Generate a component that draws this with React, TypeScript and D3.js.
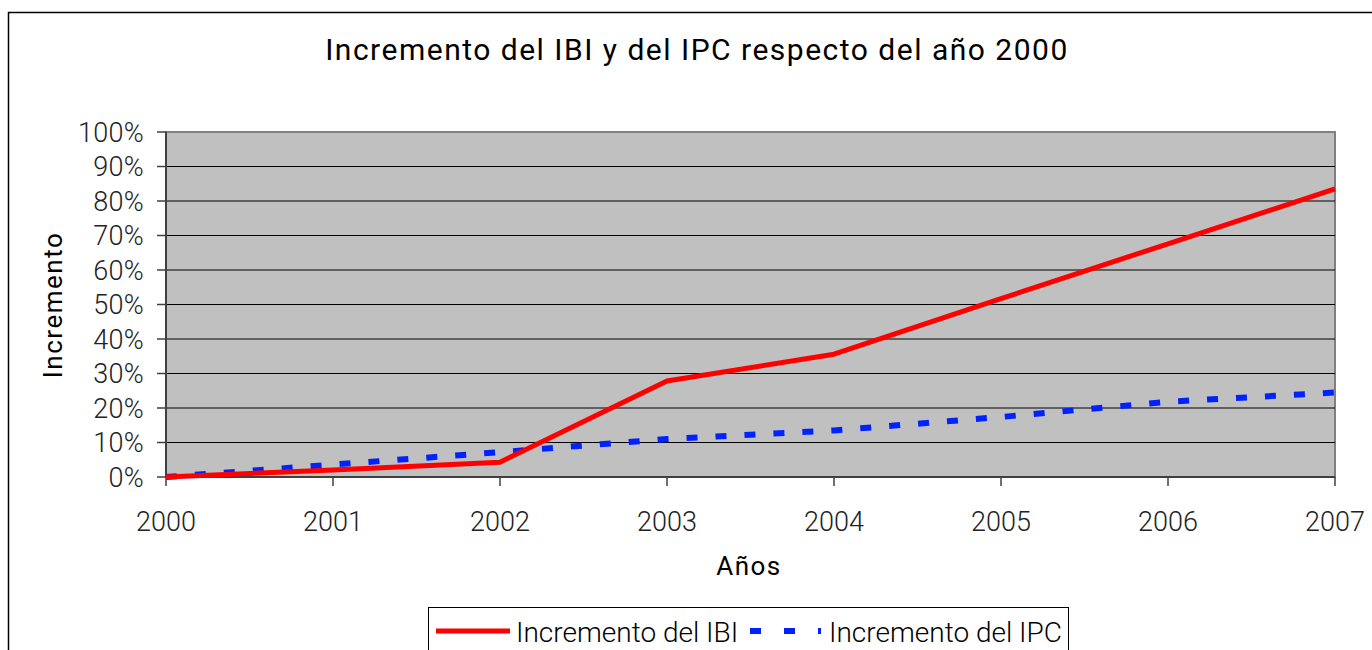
import React from 'react';
import * as d3 from 'd3';

const years = [2000, 2001, 2002, 2003, 2004, 2005, 2006, 2007];
const ibi = [0, 2.0, 4.3, 27.8, 35.6, 51.7, 67.6, 83.5];
const ipc = [0, 3.6, 7.2, 11.0, 13.5, 17.4, 21.8, 24.5];
const yTicks = [0, 10, 20, 30, 40, 50, 60, 70, 80, 90, 100];

const W = 1372;
const H = 650;
const m = { top: 132, right: 37, bottom: 173, left: 166 }; // plot box 166..1335 x 132..477

const font = 'Roboto, "DejaVu Sans", sans-serif';

export default function App() {
    const x = d3.scaleLinear().domain([2000, 2007]).range([m.left, W - m.right]);
    const y = d3.scaleLinear().domain([0, 100]).range([H - m.bottom, m.top]);

    const line = d3.line<number>()
        .x((d, i) => x(years[i]))
        .y(d => y(d));

    return (
        <svg width={W} height={H} style={{ position: 'absolute', left: 0, top: 0 }}>
            <rect x={0} y={0} width={W} height={H} fill="#fff" />
            {/* outer chart border */}
            <path d={`M8.5,${H} V12.5 H${W}`} fill="none" stroke="#000" strokeWidth={1.5} />

            <text x={697} y={60} textAnchor="middle" fontFamily={font} fontSize={30} letterSpacing={1.5} fill="#000">
                Incremento del IBI y del IPC respecto del año 2000
            </text>

            {/* plot area */}
            <rect x={x(2000)} y={y(100)} width={x(2007) - x(2000)} height={y(0) - y(100)} fill="#c0c0c0" stroke="#808080" strokeWidth={2} />
            {yTicks.filter(t => t > 0 && t < 100).map(t => (
                <line key={t} x1={x(2000)} x2={x(2007)} y1={y(t)} y2={y(t)} stroke="#000" strokeWidth={1} />
            ))}
            {/* axes */}
            <line x1={x(2000)} x2={x(2000)} y1={y(100)} y2={y(0)} stroke="#404040" strokeWidth={2} />
            <line x1={x(2000)} x2={x(2007)} y1={y(0)} y2={y(0)} stroke="#404040" strokeWidth={2} />
            {yTicks.map(t => (
                <g key={t}>
                    <line x1={x(2000) - 9} x2={x(2000)} y1={y(t)} y2={y(t)} stroke="#404040" strokeWidth={1.5} />
                    <text x={x(2000) - 22} y={y(t)} dy="0.36em" textAnchor="end" fontFamily={font} fontWeight={300} fontSize={27} letterSpacing={0.3} fill="#222">
                        {t}%
                    </text>
                </g>
            ))}
            {years.map(yr => (
                <g key={yr}>
                    <line x1={x(yr)} x2={x(yr)} y1={y(0)} y2={y(0) + 9} stroke="#404040" strokeWidth={1.5} />
                    <text x={x(yr)} y={y(0) + 54} textAnchor="middle" fontFamily={font} fontWeight={300} fontSize={27} fill="#222">
                        {yr}
                    </text>
                </g>
            ))}

            {/* series */}
            <path d={line(ipc) ?? ''} fill="none" stroke="#0022ff" strokeWidth={6} strokeDasharray="11 18" />
            <path d={line(ibi) ?? ''} fill="none" stroke="#ff0000" strokeWidth={5} strokeLinejoin="round" />

            {/* axis titles */}
            <text x={749} y={575} textAnchor="middle" fontFamily={font} fontSize={26} letterSpacing={1.5} fill="#000">Años</text>
            <text transform="translate(62,305) rotate(-90)" textAnchor="middle" fontFamily={font} fontSize={26} letterSpacing={1.5} fill="#000">Incremento</text>

            {/* legend */}
            <rect x={428.5} y={607.5} width={640} height={60} fill="#fff" stroke="#000" strokeWidth={1} />
            <line x1={436} x2={510} y1={631} y2={631} stroke="#ff0000" strokeWidth={5} />
            <text x={516} y={642} fontFamily={font} fontWeight={300} fontSize={28} fill="#000">Incremento del IBI</text>
            <line x1={750} x2={821} y1={631} y2={631} stroke="#0022ff" strokeWidth={6} strokeDasharray="11 23" />
            <text x={829} y={642} fontFamily={font} fontWeight={300} fontSize={28} fill="#000">Incremento del IPC</text>
        </svg>
    );
}
